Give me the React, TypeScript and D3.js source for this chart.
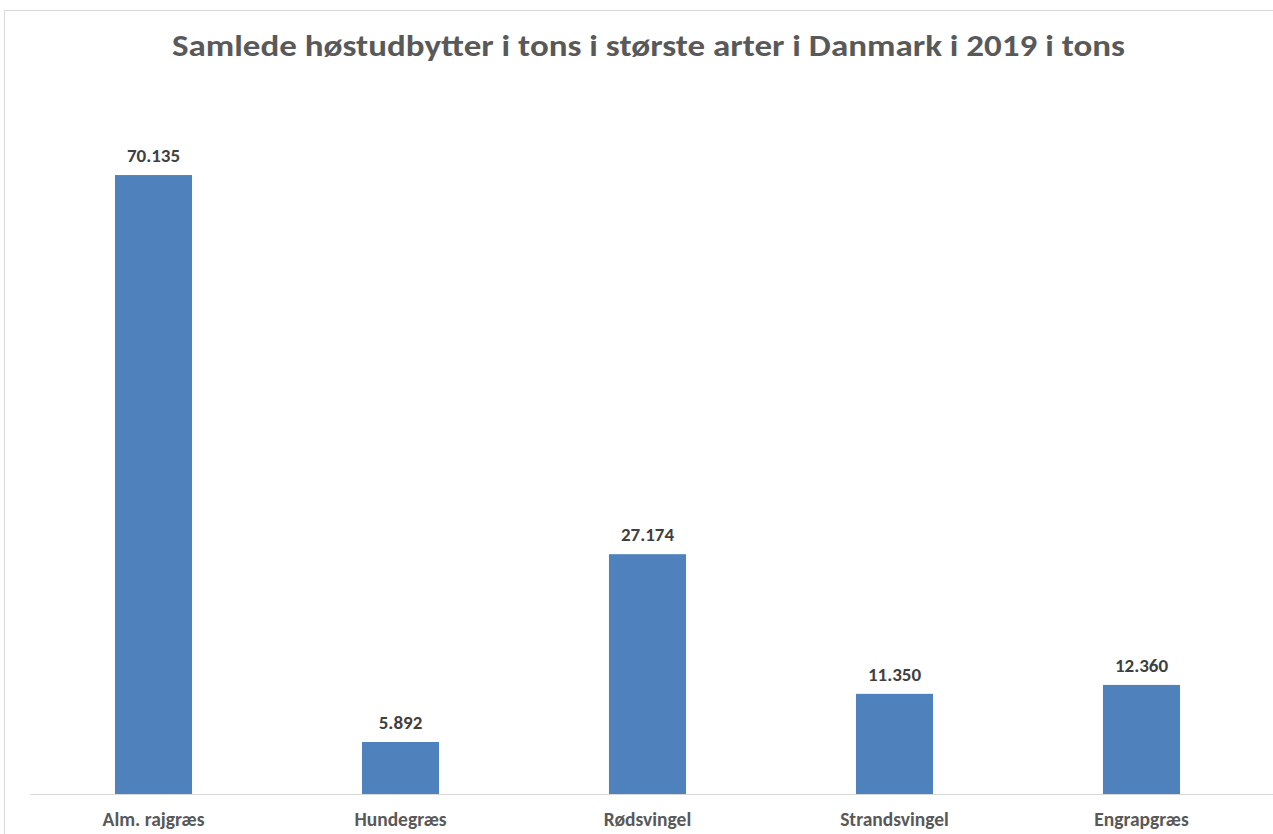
import React from "react";
import * as d3 from "d3";

const categories: string[] = ["Alm. rajgræs", "Hundegræs", "Rødsvingel", "Strandsvingel", "Engrapgræs"];
const values: number[] = [70135, 5892, 27174, 11350, 12360];
const titleText = "Samlede høstudbytter i tons i største arter i Danmark i 2019 i tons";

const W = 1273;
const H = 834;
const FONT = "Carlito, Calibri, Lato, 'Open Sans', sans-serif";

const locale = d3.formatLocale({ decimal: ",", thousands: ".", grouping: [3], currency: ["", ""] });
const fmt = locale.format(",");

export default function App() {
  const x = d3.scaleBand<string>().domain(categories).range([30, 1265]).paddingInner(0.688).paddingOuter(0.344);
  const y = d3.scaleLinear().domain([0, 80000]).range([794, 88]);
  return (
    <svg width={W} height={H} style={{ position: "absolute", left: 0, top: 0, background: "#fff" }}>
      <rect x={4.5} y={10.5} width={W + 20} height={H + 20} fill="#fff" stroke="#d9d9d9" strokeWidth={1} />
      <text x={172} y={56} textLength={953} lengthAdjust="spacingAndGlyphs" fontFamily={FONT} fontWeight="bold" fontSize={30} fill="#595959">
        {titleText}
      </text>
      {categories.map((c, i) => (
        <g key={c}>
          <rect x={x(c)!} y={y(values[i])} width={x.bandwidth()} height={y(0) - y(values[i])} fill="#4f81bd" />
          <text x={x(c)! + x.bandwidth() / 2} y={y(values[i]) - 13} textAnchor="middle" fontFamily={FONT} fontWeight="bold" fontSize={19} fill="#404040">
            {fmt(values[i])}
          </text>
          <text x={x(c)! + x.bandwidth() / 2} y={826} textAnchor="middle" fontFamily={FONT} fontWeight="bold" fontSize={19.5} fill="#595959">
            {c}
          </text>
        </g>
      ))}
      <line x1={30} x2={W} y1={794.5} y2={794.5} stroke="#d9d9d9" strokeWidth={1.2} />
    </svg>
  );
}
